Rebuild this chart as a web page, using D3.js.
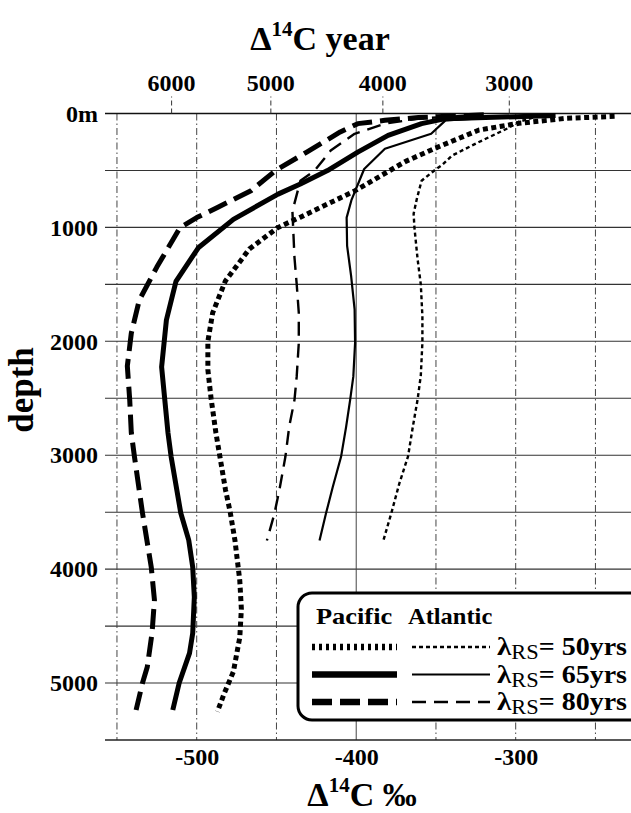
<!DOCTYPE html>
<html>
<head>
<meta charset="utf-8">
<script src="https://cdn.jsdelivr.net/npm/d3@7"></script>
<style>
  html, body { margin: 0; padding: 0; background: #fff; }
  svg { display: block; }
  text { font-family: "Liberation Serif", "Times New Roman", serif; font-weight: bold; fill: #000; }
</style>
</head>
<body>
<svg id="chart" width="631" height="813"></svg>
<script>
/*
 * Radiocarbon profiles: Δ14C vs depth, Pacific (thick) and Atlantic (thin)
 * for three λRS values.
 */

// ---- data: [depth m, Δ14C ‰] ----
const pac50 = [[25,-238],[42,-268],[86,-298],[145,-323],[290,-348],[420,-369],[680,-401],
  [910,-435],[1000,-449],[1190,-467],[1470,-482],[1750,-490],[2000,-493],[2250,-493],
  [2500,-491],[2800,-488],[3050,-485],[3300,-482],[3500,-479],[3750,-476],[4100,-473],
  [4350,-472],[4600,-473],[4900,-477],[5100,-483],[5250,-487]];
const pac65 = [[18,-275],[45,-344],[89,-359],[192,-380],[339,-399],[501,-418],[619,-435],
  [708,-449],[929,-477],[1179,-499],[1473,-513],[1813,-519],[2225,-522],[2515,-520],
  [2805,-518],[3016,-516],[3507,-510],[3745,-505],[3982,-502.5],[4245,-501.5],[4561,-502.5],
  [4737,-504.5],[5000,-511],[5237,-515]];
const pac80 = [[12,-320],[36,-361],[60,-382],[89,-399],[162,-410],[339,-431],[495,-450],
  [678,-466],[825,-487],[914,-500],[1003,-510.5],[1348,-525],[1638,-536],[1928,-541],
  [2217,-543.5],[2515,-542],[2805,-541],[3016,-539],[3507,-534],[3982,-528.5],[4271,-526.5],
  [4561,-528],[4859,-531],[5000,-534],[5237,-538]];
const atl50 = [[20,-285],[72,-298],[130,-305],[250,-323],[370,-340],[450,-346],[500,-351],
  [590,-359],[750,-362],[880,-364],[1000,-363.5],[1280,-361.5],[1500,-359.5],[1780,-358.5],
  [2010,-358.5],[2300,-359.5],[2510,-361.5],[2750,-364.5],[3010,-367.5],[3250,-373],
  [3510,-378],[3750,-383]];
const atl65 = [[20,-295],[60,-344],[178,-353],[310,-382],[487,-395],[761,-403],[914,-406],
  [1162,-405.7],[1426,-403.2],[1720,-401],[2014,-400.7],[2308,-401.8],[2514,-403.8],
  [2749,-406.3],[3014,-409.5],[3279,-414.7],[3514,-419],[3749,-423]];
const atl80 = [[18,-330],[45,-361],[89,-382],[178,-401],[325,-416],[501,-426],[590,-435],
  [858,-440],[1265,-438.7],[1500,-437.3],[1750,-436],[2014,-436],[2308,-437.3],[2514,-438.7],
  [2749,-442],[3014,-444.4],[3308,-448.2],[3514,-451.3],[3749,-456]];

const depthTicks = [0, 1000, 2000, 3000, 4000, 5000];
const depthGrid = [500, 1000, 1500, 2000, 2500, 3000, 3500, 4000, 4500, 5000];
const deltaTicks = [-500, -400, -300];
const deltaGrid = [-550, -500, -450, -400, -350, -300, -250];
const yearTicks = [6000, 5000, 4000, 3000];
const legendRows = ['50yrs', '65yrs', '80yrs'];

// ---- styles ----
const STYLE = {
  pac50: { w: 5, dash: '5,3.5' },
  pac65: { w: 5, dash: null },
  pac80: { w: 5, dash: '20,8' },
  atl50: { w: 2.4, dash: '4,3' },
  atl65: { w: 2.2, dash: null },
  atl80: { w: 2.4, dash: '14,8' }
};

// conventional age (5730 yr half-life) -> Δ14C
function yearToDelta(yr) {
  return 1000 * (Math.exp(-yr / 8267) - 1);
}

const svg = d3.select('#chart');
const x = d3.scaleLinear().domain([-557.5, -220]).range([105, 643.3]);
const y = d3.scaleLinear().domain([0, 5500]).range([113.5, 740]);
const x0 = 105, x1 = 643;

// ---- grid ----
const grid = svg.append('g').attr('class', 'grid');
grid.selectAll('line.h').data(depthGrid).join('line')
  .attr('x1', x0).attr('x2', x1)
  .attr('y1', d => y(d)).attr('y2', d => y(d))
  .attr('stroke', '#333').attr('stroke-width', 1.1);
grid.selectAll('line.v').data(deltaGrid).join('line')
  .attr('x1', d => x(d)).attr('x2', d => x(d))
  .attr('y1', y(0)).attr('y2', y(5500))
  .attr('stroke', '#444').attr('stroke-width', 1)
  .attr('stroke-dasharray', d => d === -400 ? null : '7,3,1.5,3');

// ---- axes ----
const axTop = svg.append('g').attr('transform', `translate(0,${y(0)})`)
  .call(d3.axisTop(x).tickValues(yearTicks.map(yearToDelta))
    .tickFormat((d, i) => yearTicks[i]).tickSize(17).tickSizeOuter(0).tickPadding(6));
axTop.select('.domain').attr('d', `M${x0},0H${x1}`).attr('stroke', '#111').attr('stroke-width', 1.5);
axTop.selectAll('.tick line').attr('stroke', '#333').attr('stroke-dasharray', '5,3');

const axBottom = svg.append('g').attr('transform', `translate(0,${y(5500)})`)
  .call(d3.axisBottom(x).tickValues(deltaTicks).tickSize(0).tickPadding(8)
    .tickFormat(d => String(d)));
axBottom.select('.domain').attr('d', `M${x0},0H${x1}`).attr('stroke', '#222').attr('stroke-width', 1.5);

const axLeft = svg.append('g').attr('transform', `translate(${x0},0)`)
  .call(d3.axisLeft(y).tickValues(depthTicks).tickSize(0).tickPadding(7)
    .tickFormat(d => d === 0 ? '0m' : String(d)));
axLeft.select('.domain').remove();

svg.selectAll('.tick text')
  .attr('font-family', '"Liberation Serif", serif')
  .attr('font-weight', 'bold').attr('font-size', 24).attr('fill', '#000');

// ---- titles ----
function deltaTitle(parent, xc, yb, tail) {
  const t = parent.append('text').attr('x', xc).attr('y', yb)
    .attr('text-anchor', 'middle').attr('font-size', 34);
  t.append('tspan').text('Δ');
  t.append('tspan').attr('font-size', 21).attr('dy', -14).text('14');
  t.append('tspan').attr('dy', 14).text('C' + tail);
  return t;
}
deltaTitle(svg, 320, 50, ' year');
deltaTitle(svg, 362, 806, ' ‰');

svg.append('text')
  .attr('transform', 'translate(33,390) rotate(-90)')
  .attr('text-anchor', 'middle').attr('font-size', 35).text('depth');

// ---- curves ----
const line = d3.line().x(d => x(d[1])).y(d => y(d[0]));
const series = [
  ['atl50', atl50], ['atl65', atl65], ['atl80', atl80],
  ['pac50', pac50], ['pac65', pac65], ['pac80', pac80]
];
svg.append('g').attr('class', 'curves')
  .selectAll('path').data(series).join('path')
  .attr('d', d => line(d[1]))
  .attr('fill', 'none').attr('stroke', '#000')
  .attr('stroke-width', d => STYLE[d[0]].w)
  .attr('stroke-dasharray', d => STYLE[d[0]].dash)
  .attr('stroke-linejoin', 'round');

// ---- legend ----
const lg = svg.append('g').attr('class', 'legend');
lg.append('rect')
  .attr('x', 298).attr('y', 593).attr('width', 360).attr('height', 127)
  .attr('rx', 14).attr('fill', '#fff').attr('stroke', '#000').attr('stroke-width', 3);
lg.append('text').attr('transform', 'translate(316,624) scale(1.1,1)')
  .attr('font-size', 24).text('Pacific');
lg.append('text').attr('transform', 'translate(408,624) scale(1.02,1)')
  .attr('font-size', 24).text('Atlantic');

const rowY = d3.scalePoint().domain(legendRows).range([647, 702]);
legendRows.forEach((lab, i) => {
  const ry = rowY(lab);
  const pk = ['pac50', 'pac65', 'pac80'][i];
  const ak = ['atl50', 'atl65', 'atl80'][i];
  lg.append('line').attr('x1', 312).attr('x2', 397).attr('y1', ry).attr('y2', ry)
    .attr('stroke', '#000').attr('stroke-width', STYLE[pk].w + 1.5)
    .attr('stroke-dasharray', pk === 'pac50' ? '3,4' : STYLE[pk].dash);
  lg.append('line').attr('x1', 412).attr('x2', 490).attr('y1', ry).attr('y2', ry)
    .attr('stroke', '#000').attr('stroke-width', STYLE[ak].w)
    .attr('stroke-dasharray', STYLE[ak].dash);
  const t = lg.append('text').attr('transform', `translate(497,${ry + 8}) scale(1.12,1)`)
    .attr('font-size', 25);
  t.append('tspan').attr('font-size', 26).text('λ');
  t.append('tspan').attr('font-size', 20).attr('font-weight', 'normal').attr('dy', 4).text('RS');
  t.append('tspan').attr('dy', -4).text('= ' + lab);
});
</script>
</body>
</html>
